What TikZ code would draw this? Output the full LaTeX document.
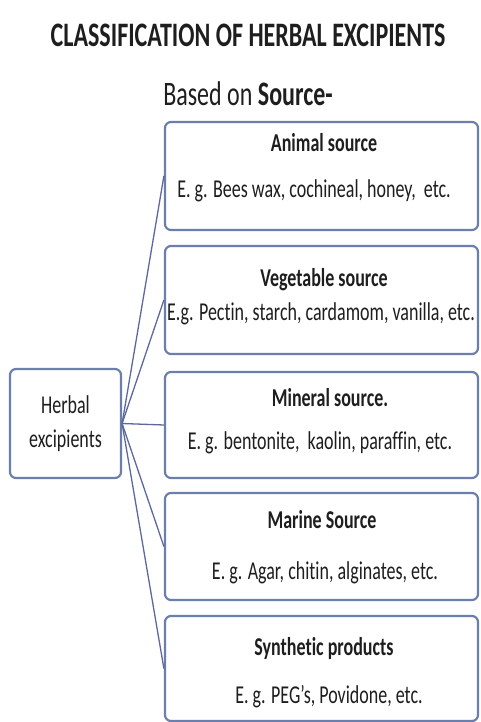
\documentclass[tikz,border=0pt]{standalone}
\usepackage{fontspec}
\setmainfont{Carlito}[FakeStretch=0.7, Ligatures=NoCommon]
\definecolor{boxline}{RGB}{108,126,172}
\definecolor{conn}{RGB}{92,104,158}
\definecolor{txt}{RGB}{30,30,30}
\tikzset{
  srcbox/.style={draw=boxline, line width=2.2pt, rounded corners=6pt, fill=white, minimum width=313pt, inner sep=0pt},
  hdr/.style={anchor=base, font=\fontsize{25.7}{30}\selectfont\bfseries, text=txt, inner sep=0pt},
  ex/.style={anchor=base, font=\fontsize{25.7}{30}\selectfont, text=txt, inner sep=0pt},
  link/.style={draw=conn, line width=1.3pt},
}
\begin{document}
\begin{tikzpicture}[x=1pt, y=-1pt]
\useasboundingbox (0,0) rectangle (481,722);
\node[anchor=base, font=\fontsize{34.3}{40}\selectfont\bfseries, text=txt, inner sep=0pt] (title) at (248,47) {CLASSIFICATION OF HERBAL EXCIPIENTS};
\node[anchor=base, font=\fontsize{34.3}{40}\selectfont, text=txt, inner sep=0pt] (sub) at (248,106) {Based on \textbf{Source-}};

\node[srcbox, minimum height=108pt] (b1) at (321.5,176) {};
\node[srcbox, minimum height=108pt] (b2) at (321.5,300) {};
\node[srcbox, minimum height=106pt] (b3) at (321.5,425) {};
\node[srcbox, minimum height=107pt] (b4) at (321.5,546.5) {};
\node[srcbox, minimum height=105pt] (b5) at (321.5,668.5) {};

\node[draw=boxline, line width=2.2pt, rounded corners=6pt, fill=white, minimum width=111pt, minimum height=109pt, inner sep=0pt, align=center, text=txt, font=\fontsize{25.7}{34}\selectfont] (herb) at (65.5,423.5) {Herbal\\excipients};

\node[hdr] (h1) at (324,152) {Animal source};
\node[ex] (e1) at (314,197) {E. g. Bees wax, cochineal, honey,\ \ etc.};
\node[hdr] (h2) at (324,286) {Vegetable source};
\node[ex] (e2) at (321,320) {E.g. Pectin, starch, cardamom, vanilla, etc.};
\node[hdr] (h3) at (330,406) {Mineral source.};
\node[ex] (e3) at (320,449) {E. g. bentonite,\ \ kaolin, paraffin, etc.};
\node[hdr] (h4) at (322,528) {Marine Source};
\node[ex] (e4) at (325,579) {E. g. Agar, chitin, alginates, etc.};
\node[hdr] (h5) at (324,655) {Synthetic products};
\node[ex] (e5) at (329,703) {E. g. PEG's, Povidone, etc.};

\foreach \b in {b1,b2,b3,b4,b5}
  \draw[link] (herb.east) -- (\b.west);
\end{tikzpicture}
\end{document}
